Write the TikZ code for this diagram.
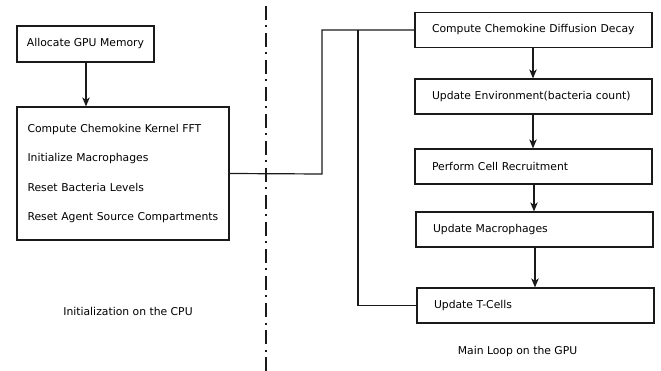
\documentclass[tikz,border=0pt]{standalone}
\usepackage{fontspec}
\setmainfont{DejaVu Sans}
\usetikzlibrary{arrows.meta,positioning}

\begin{document}
\begin{tikzpicture}[x=1pt, y=-1pt,
    box/.style={draw=lineColour, line width=1.2pt, rectangle, font=\fontsize{10.8}{13}\selectfont},
    loopbox/.style={box, text width=203pt, inner xsep=17pt, align=left, minimum height=35pt},
    flow/.style={draw=lineColour, line width=1.2pt, -{Stealth[length=9pt,width=7.5pt,inset=2.5pt]}},
    wire/.style={draw=lineColour, line width=1.2pt}]
    \definecolor{lineColour}{HTML}{1A1A1A}

    % Fix the page size
    \useasboundingbox (0,0) rectangle (661,371);

    % Dividing line between CPU and GPU
    \coordinate (splitTop) at (266,6);
    \coordinate (splitBottom) at (266,371);
    \draw[lineColour, line width=1.2pt, dash pattern=on 14pt off 5.5pt on 2pt off 5.5pt] (splitTop) -- (splitBottom);

    % Initialization on the CPU
    \node[box, minimum width=137pt, minimum height=36pt] (alloc) at (85.5,44) {Allocate GPU Memory};
    \node[box, text width=191pt, inner xsep=10.5pt, align=left, minimum height=133pt,
          font=\fontsize{10.8}{29.5}\selectfont] (init) at (123,173.5)
        {Compute Chemokine Kernel FFT\\Initialize Macrophages\\Reset Bacteria Levels\\Reset Agent Source Compartments};
    \draw[flow] (alloc.south -| 86,0) -- (init.north -| 86,0);
    \node[font=\fontsize{10.8}{13}\selectfont] (cpuLabel) at (128,311) {Initialization on the CPU};

    % Main loop on the GPU
    \node[loopbox] (diffusion) at (533.5,30) {Compute Chemokine Diffusion Decay};
    \node[loopbox] (environment) at (533.5,96.5) {Update Environment(bacteria count)};
    \node[loopbox] (recruit) at (533.5,166.5) {Perform Cell Recruitment};
    \node[loopbox] (macro) at (534.5,229.5) {Update Macrophages};
    \node[loopbox] (tcells) at (535.5,305.5) {Update T-Cells};
    \node[font=\fontsize{10.8}{13}\selectfont] (gpuLabel) at (517.5,352) {Main Loop on the GPU};

    \draw[flow] (diffusion.south -| 533,0) -- (environment.north -| 533,0);
    \draw[flow] (environment.south -| 533,0) -- (recruit.north -| 533,0);
    \draw[flow] (recruit.south -| 534,0) -- (macro.north -| 534,0);
    \draw[flow] (macro.south -| 535,0) -- (tcells.north -| 535,0);

    % Hand-over from CPU to GPU and the loop back
    \coordinate (loopJoin) at (358,30);
    \draw[wire] (init.east) -- (322,174) |- (diffusion.west);
    \draw[wire] (loopJoin) |- (tcells.west);

\end{tikzpicture}
\end{document}
